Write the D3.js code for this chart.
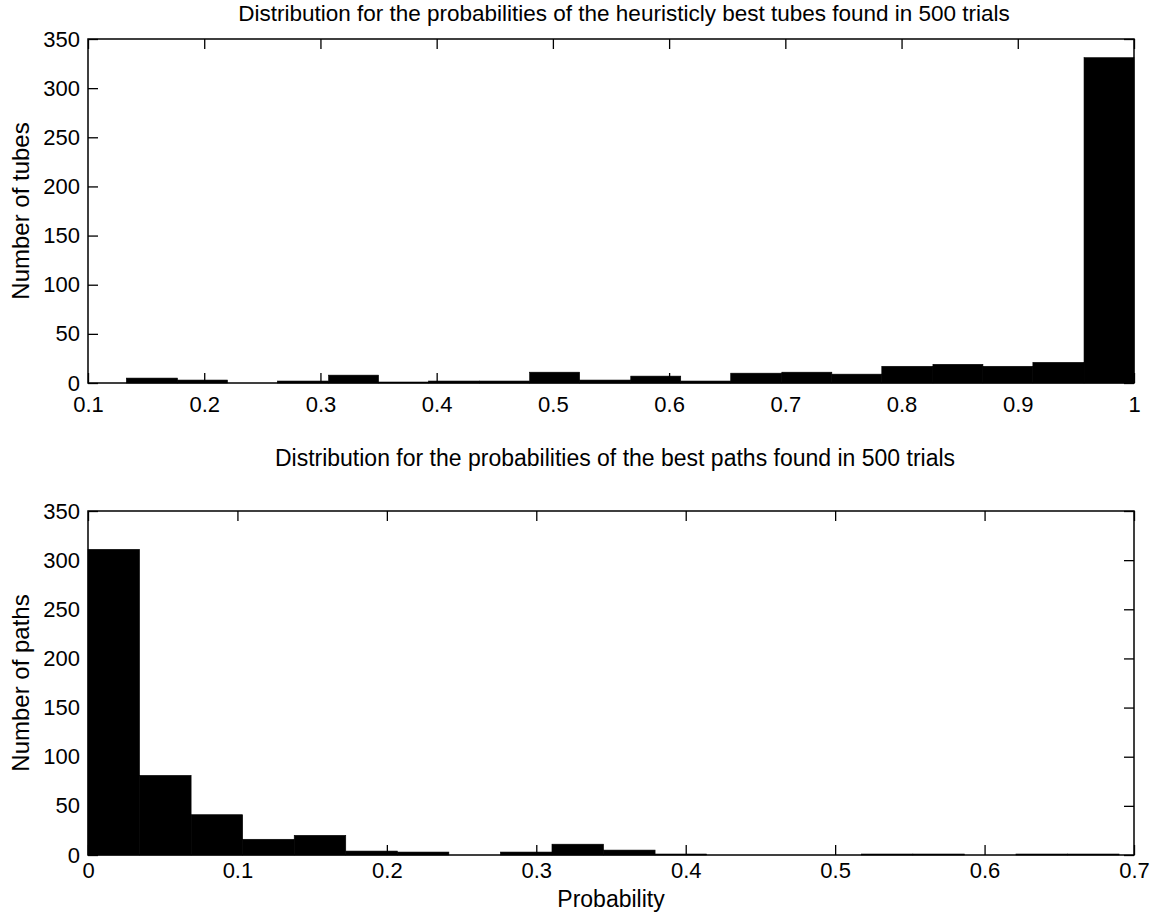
<!DOCTYPE html>
<html>
<head>
<meta charset="utf-8">
<script src="https://cdn.jsdelivr.net/npm/d3@7"></script>
<style>
  body { margin: 0; background: #fff; }
  svg { display: block; }
  text { font-family: "Liberation Sans", Arial, Helvetica, sans-serif; fill: #000; }
</style>
</head>
<body>
<svg id="chart" width="1153" height="922"></svg>
<script>
// histogram bin edges and counts
const tubeEdges = [0.133, 0.177, 0.220, 0.263, 0.307, 0.350, 0.393, 0.437, 0.480, 0.523, 0.567,
                   0.610, 0.653, 0.697, 0.740, 0.783, 0.827, 0.870, 0.913, 0.957, 1.000]
const tubeCounts = [5, 3, 0, 2, 8, 1, 2, 2, 11, 3, 7, 2, 10, 11, 9, 17, 19, 17, 21, 331]

const pathEdges = [0, 0.0345, 0.069, 0.1035, 0.138, 0.1725, 0.207, 0.2415, 0.276, 0.3105, 0.345,
                   0.3795, 0.414, 0.4485, 0.483, 0.5175, 0.552, 0.5865, 0.621, 0.6555, 0.69]
const pathCounts = [311, 81, 41, 16, 20, 4, 3, 0, 3, 11, 5, 1, 0, 0, 0, 1, 1, 0, 1, 1]

const tubeTicks = [0.1, 0.2, 0.3, 0.4, 0.5, 0.6, 0.7, 0.8, 0.9, 1]
const pathTicks = [0, 0.1, 0.2, 0.3, 0.4, 0.5, 0.6, 0.7]
const countTicks = [0, 50, 100, 150, 200, 250, 300, 350]

const left = 88, right = 1134
const fontSize = 22

const svg = d3.select("#chart")
svg.append("rect").attr("width", 1153).attr("height", 922).attr("fill", "#fff")

/*
    draws one boxed MATLAB-like histogram panel
    top/bottom are the pixel rows of the plot box
*/
const drawPanel = (opts) => {
    const x = d3.scaleLinear().domain(opts.xDomain).range([left, right])
    const y = d3.scaleLinear().domain([0, 350]).range([opts.bottom, opts.top])

    const g = svg.append("g")

    let bins = opts.counts.map((c, i) => ({ x0: opts.edges[i], x1: opts.edges[i + 1], n: c }))
    g.append("g")
        .selectAll("rect")
        .data(bins.filter(d => d.n > 0))
        .join("rect")
        .attr("x", d => x(d.x0))
        .attr("width", d => x(d.x1) - x(d.x0))
        .attr("y", d => y(d.n))
        .attr("height", d => y(0) - y(d.n))
        .attr("fill", "#000")
        .attr("stroke", "#000")
        .attr("stroke-width", 0.6)

    let fmt = d => d3.format("")(+d.toFixed(1))

    let axB = g.append("g")
        .attr("transform", "translate(0," + opts.bottom + ")")
        .call(d3.axisBottom(x).tickValues(opts.ticks).tickFormat(fmt)
            .tickSizeInner(-10).tickSizeOuter(0).tickPadding(opts.xPad))
    let axT = g.append("g")
        .attr("transform", "translate(0," + opts.top + ")")
        .call(d3.axisTop(x).tickValues(opts.ticks).tickFormat("")
            .tickSizeInner(-10).tickSizeOuter(0))
    let axL = g.append("g")
        .attr("transform", "translate(" + left + ",0)")
        .call(d3.axisLeft(y).tickValues(countTicks)
            .tickSizeInner(-10).tickSizeOuter(0).tickPadding(8))
    let axR = g.append("g")
        .attr("transform", "translate(" + right + ",0)")
        .call(d3.axisRight(y).tickValues(countTicks).tickFormat("")
            .tickSizeInner(-10).tickSizeOuter(0))

    for (let a of [axB, axT, axL, axR]) {
        a.select(".domain").remove()
        a.selectAll(".tick line").attr("stroke", "#000").attr("stroke-width", 1.3)
        a.selectAll("text")
            .attr("font-size", fontSize)
            .attr("font-family", "Liberation Sans, Arial, Helvetica, sans-serif")
            .attr("fill", "#000")
    }

    g.append("rect")
        .attr("x", left)
        .attr("y", opts.top)
        .attr("width", right - left)
        .attr("height", opts.bottom - opts.top)
        .attr("fill", "none")
        .attr("stroke", "#000")
        .attr("stroke-width", 1.5)

    g.append("text")
        .attr("x", (left + right) / 2 + opts.titleShift)
        .attr("y", opts.titleY)
        .attr("text-anchor", "middle")
        .attr("font-size", opts.titleSize)
        .text(opts.title)

    g.append("text")
        .attr("transform", "translate(29," + (opts.top + opts.bottom) / 2 + ") rotate(-90)")
        .attr("text-anchor", "middle")
        .attr("font-size", 24)
        .text(opts.ylabel)

    if (opts.xlabel) {
        g.append("text")
            .attr("x", (left + right) / 2)
            .attr("y", opts.xlabelY)
            .attr("text-anchor", "middle")
            .attr("font-size", 23)
            .text(opts.xlabel)
    }
}

drawPanel({
    top: 39, bottom: 383,
    xDomain: [0.1, 1],
    ticks: tubeTicks,
    xPad: 13,
    edges: tubeEdges,
    counts: tubeCounts,
    title: "Distribution for the probabilities of the heuristicly best tubes found in 500 trials",
    titleY: 21,
    titleSize: 22.5,
    titleShift: 13,
    ylabel: "Number of tubes"
})

drawPanel({
    top: 511, bottom: 855,
    xDomain: [0, 0.7],
    ticks: pathTicks,
    xPad: 7,
    edges: pathEdges,
    counts: pathCounts,
    title: "Distribution for the probabilities of the best paths found in 500 trials",
    titleY: 466,
    titleSize: 23,
    titleShift: 4,
    ylabel: "Number of paths",
    xlabel: "Probability",
    xlabelY: 907
})
</script>
</body>
</html>
